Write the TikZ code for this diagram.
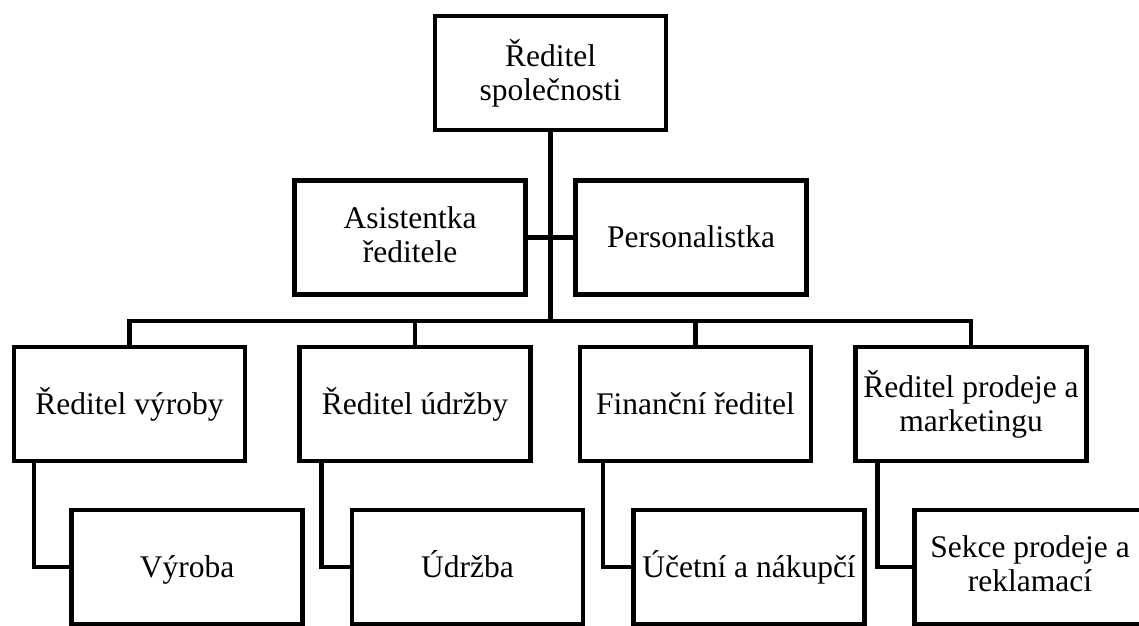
\documentclass[tikz,border=0pt]{standalone}
\usepackage{fontspec}
\setmainfont{Liberation Serif}

\tikzset{every picture/.style={line width=4.5pt}}
\tikzset{orgbox/.style={draw, rectangle, minimum width=231pt, minimum height=114pt, inner sep=2pt, align=center, font=\fontsize{31.5}{34}\selectfont, execute at begin node={\vphantom{Ř}}, execute at end node={\vphantom{y}}}}

\begin{document}
\begin{tikzpicture}[x=1pt,y=1pt,yscale=-1,xscale=1,line width=4.5pt]
		\useasboundingbox (0,0) rectangle (1139,625);

		%Shape: Rectangle [top]
		\node [orgbox] (ceo) at (550.5,73) {Ředitel\\společnosti};
		%Shape: Rectangle [staff]
		\node [orgbox] (asist) at (410,237.5) {Asistentka\\ředitele};
		\node [orgbox] (pers) at (691,237.5) {Personalistka};

		%Shape: Rectangle [directors]
		\node [orgbox] (vyr) at (129.5,404) {Ředitel výroby};
		\node [orgbox] (udr) at (415,404) {Ředitel údržby};
		\node [orgbox] (fin) at (695.5,404) {Finanční ředitel};
		\node [orgbox] (prod) at (971,404) {Ředitel prodeje a\\marketingu};

		%Shape: Rectangle [departments]
		\node [orgbox] (vyroba) at (187,567) {Výroba};
		\node [orgbox] (udrzba) at (467.5,567) {Údržba};
		\node [orgbox] (ucet) at (749,567) {Účetní a nákupčí};
		\node [orgbox] (sekce) at (1030,567) {Sekce prodeje a\\reklamací};

		%Straight Lines
		\coordinate (bus) at (550.5,321);
		\draw (ceo) -- (bus);
		\draw (asist) -- (pers);
		\draw (bus) -| (vyr.north);
		\draw (bus) -| (udr.north);
		\draw (bus) -| (fin.north);
		\draw (bus) -| (prod.north);

		%Elbow Lines
		\draw ([xshift=22pt]vyr.south west) |- (vyroba.west);
		\draw ([xshift=24pt]udr.south west) |- (udrzba.west);
		\draw ([xshift=25pt]fin.south west) |- (ucet.west);
		\draw ([xshift=24pt]prod.south west) |- (sekce.west);

	\end{tikzpicture}
\end{document}
